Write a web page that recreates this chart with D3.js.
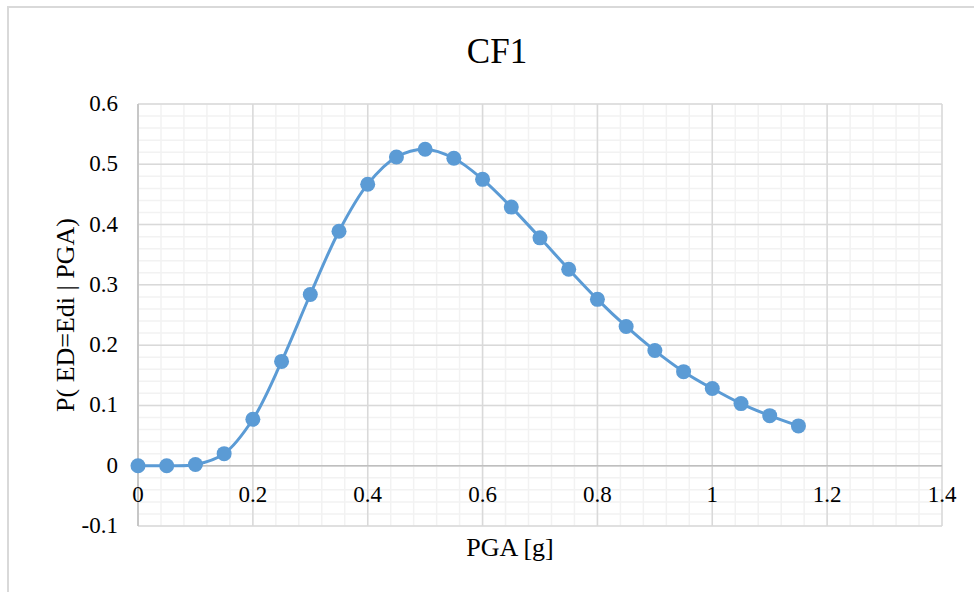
<!DOCTYPE html>
<html>
<head>
<meta charset="utf-8">
<script src="https://cdn.jsdelivr.net/npm/d3@7"></script>
<style>
  body { margin: 0; background: #fff; }
  text { font-family: "Liberation Serif", "Times New Roman", serif; fill: #000; }
</style>
</head>
<body>
<div class="chart"></div>
<script>
// data
var pga = [0, 0.05, 0.1, 0.15, 0.2, 0.25, 0.3, 0.35, 0.4, 0.45, 0.5, 0.55,
           0.6, 0.65, 0.7, 0.75, 0.8, 0.85, 0.9, 0.95, 1.0, 1.05, 1.1, 1.15];
var prob = [0, 0, 0.002, 0.02, 0.077, 0.173, 0.284, 0.389, 0.467, 0.512, 0.525, 0.51,
            0.475, 0.429, 0.378, 0.326, 0.276, 0.231, 0.191, 0.156, 0.128, 0.103, 0.083, 0.066];
var xTicks = [0, 0.2, 0.4, 0.6, 0.8, 1, 1.2, 1.4];
var yTicks = [-0.1, 0, 0.1, 0.2, 0.3, 0.4, 0.5, 0.6];

var svgWidth = 974, svgHeight = 592;
var margin = { top: 104, right: 32, bottom: 66, left: 138 };
var width = svgWidth - margin.left - margin.right;
var height = svgHeight - margin.top - margin.bottom;

var svg = d3.select(".chart")
  .append("svg")
  .attr("width", svgWidth)
  .attr("height", svgHeight);

// outer chart border (runs off the picture right and bottom)
svg.append("rect")
  .attr("x", 8).attr("y", 7)
  .attr("width", 1000).attr("height", 1000)
  .attr("fill", "none")
  .attr("stroke", "#d9d9d9")
  .attr("stroke-width", 2);

var chartGroup = svg.append("g")
  .attr("transform", `translate(${margin.left}, ${margin.top})`);

var xScale = d3.scaleLinear().domain([0, 1.4]).range([0, width]);
var yScale = d3.scaleLinear().domain([-0.1, 0.6]).range([height, 0]);

// minor gridlines
var xMinor = d3.range(0, 1.4001, 0.04);
var yMinor = d3.range(-0.1, 0.6001, 0.02);
chartGroup.selectAll(".xminor").data(xMinor).enter().append("line")
  .attr("x1", d => xScale(d)).attr("x2", d => xScale(d))
  .attr("y1", 0).attr("y2", height)
  .attr("stroke", "#f2f2f2").attr("stroke-width", 1.5);
chartGroup.selectAll(".yminor").data(yMinor).enter().append("line")
  .attr("x1", 0).attr("x2", width)
  .attr("y1", d => yScale(d)).attr("y2", d => yScale(d))
  .attr("stroke", "#f2f2f2").attr("stroke-width", 1.5);

// major gridlines
chartGroup.selectAll(".xmajor").data(xTicks).enter().append("line")
  .attr("x1", d => xScale(d)).attr("x2", d => xScale(d))
  .attr("y1", 0).attr("y2", height)
  .attr("stroke", "#d9d9d9").attr("stroke-width", 1.5);
chartGroup.selectAll(".ymajor").data(yTicks).enter().append("line")
  .attr("x1", 0).attr("x2", width)
  .attr("y1", d => yScale(d)).attr("y2", d => yScale(d))
  .attr("stroke", "#d9d9d9").attr("stroke-width", 1.5);

// axis lines (x axis crosses at y = 0)
chartGroup.append("line")
  .attr("x1", 0).attr("x2", width)
  .attr("y1", yScale(0)).attr("y2", yScale(0))
  .attr("stroke", "#bfbfbf").attr("stroke-width", 1.5);
chartGroup.append("line")
  .attr("x1", 0).attr("x2", 0)
  .attr("y1", 0).attr("y2", height)
  .attr("stroke", "#bfbfbf").attr("stroke-width", 1.5);

// tick labels (plain hyphen for negatives, like Excel)
var fmt = d => d3.format("~g")(d).replace("\u2212", "-");
chartGroup.selectAll(".xlab").data(xTicks).enter().append("text")
  .attr("x", d => xScale(d))
  .attr("y", yScale(0) + 36)
  .attr("text-anchor", "middle")
  .attr("font-size", 23)
  .text(d => fmt(d));
chartGroup.selectAll(".ylab").data(yTicks).enter().append("text")
  .attr("x", -20)
  .attr("y", d => yScale(d) + 7)
  .attr("text-anchor", "end")
  .attr("font-size", 23)
  .text(d => fmt(d));

// series
var pts = pga.map((d, i) => [d, prob[i]]);
var line = d3.line()
  .x(d => xScale(d[0]))
  .y(d => yScale(d[1]))
  .curve(d3.curveCatmullRom.alpha(0.5));

chartGroup.append("path")
  .datum(pts)
  .attr("d", line)
  .attr("fill", "none")
  .attr("stroke", "#5b9bd5")
  .attr("stroke-width", 3);

chartGroup.selectAll("circle")
  .data(pts)
  .enter()
  .append("circle")
  .attr("cx", d => xScale(d[0]))
  .attr("cy", d => yScale(d[1]))
  .attr("r", 7.5)
  .attr("fill", "#5b9bd5");

// titles
svg.append("text")
  .attr("x", 497).attr("y", 63)
  .attr("text-anchor", "middle")
  .attr("font-size", 35)
  .text("CF1");

svg.append("text")
  .attr("x", 510).attr("y", 556)
  .attr("text-anchor", "middle")
  .attr("font-size", 26)
  .text("PGA [g]");

svg.append("text")
  .attr("transform", "rotate(-90)")
  .attr("x", -315).attr("y", 74)
  .attr("text-anchor", "middle")
  .attr("font-size", 26)
  .text("P( ED=Edi | PGA)");
</script>
</body>
</html>
